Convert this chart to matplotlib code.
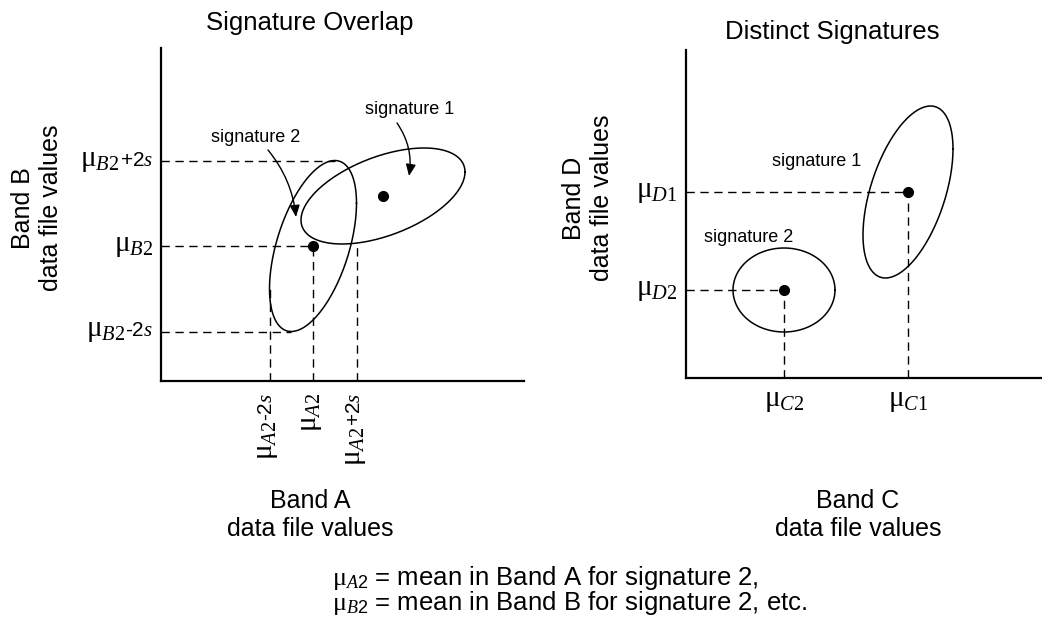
import numpy as np
import matplotlib
matplotlib.use("Agg")
import matplotlib.pyplot as plt
from matplotlib.patches import FancyArrowPatch

plt.rcParams["font.family"] = ["Liberation Sans", "DejaVu Sans"]
plt.rcParams["mathtext.fontset"] = "custom"
plt.rcParams["mathtext.rm"] = "Liberation Serif"
plt.rcParams["mathtext.it"] = "Liberation Serif:italic"
plt.rcParams["mathtext.sf"] = "Liberation Sans"

# -----------------------------
# Signature statistics (data file values, axes origin = 0)
# index 0 = signature 1, index 1 = signature 2
# -----------------------------
OVERLAP_MEAN_A = [222, 152]
OVERLAP_MEAN_B = [185, 135]
OVERLAP_2S_A = [82, 43.5]
OVERLAP_2S_B = [48, 85.5]
OVERLAP_RHO = [0.5, 0.5]

DISTINCT_MEAN_C = [222, 98]
DISTINCT_MEAN_D = [186, 88]
DISTINCT_2S_C = [45, 51]
DISTINCT_2S_D = [86, 42]
DISTINCT_RHO = [0.5, 0.0]

MU = r"$\mathrm{\mu}_{\mathit{%s}}$"
PLUS_2S = r"+2$\mathit{s}$"
MINUS_2S = r"-2$\mathit{s}$"
OVERLAP_YLABELS = [("B2", PLUS_2S), ("B2", None), ("B2", MINUS_2S)]
OVERLAP_XLABELS = [("A2", MINUS_2S), ("A2", None), ("A2", PLUS_2S)]
DISTINCT_XLABELS = ["C1", "C2"]
DISTINCT_YLABELS = ["D1", "D2"]

W, H = 1042, 618
PT = 72 / 100  # points per pixel at 100 dpi
MU_SIZE = 21
SUFFIX_SIZE = 15
DASH = dict(color="black", lw=1.0, ls=(0, (6, 4)))


def fx(px):
    return px / W


def fy(py):
    return 1 - py / H


def ellipse_xy(mx, my, sx, sy, rho, n=300):
    t = np.linspace(0, 2 * np.pi, n)
    x = mx + sx * np.cos(t)
    y = my + sy * (rho * np.cos(t) + np.sqrt(1 - rho ** 2) * np.sin(t))
    return x, y


def lower_edge(mx, my, sx, sy, rho, x):
    c = (x - mx) / sx
    return my + sy * (rho * c - np.sqrt(1 - rho ** 2) * np.sqrt(1 - c ** 2))


def setup_axes(ax, xmax, ymax):
    ax.set_xlim(0, xmax)
    ax.set_ylim(0, ymax)
    for side in ["top", "right"]:
        ax.spines[side].set_visible(False)
    for side in ["left", "bottom"]:
        ax.spines[side].set_linewidth(1.6)
    ax.set_xticks([])
    ax.set_yticks([])
    ax.patch.set_alpha(0)


def mu_ylabel(ax, y, sub, suffix=None):
    # right aligned left of the y axis, baseline a little under the guide line
    kw = dict(textcoords="offset points", ha="right", va="baseline", annotation_clip=False)
    if suffix is None:
        ax.annotate(MU % sub, xy=(0, y), xytext=(-8 * PT, -5 * PT), fontsize=MU_SIZE, **kw)
        return
    tail = ax.annotate(suffix, xy=(0, y), xytext=(-8 * PT, -5 * PT), fontsize=SUFFIX_SIZE, **kw)
    ax.annotate(MU % sub, xy=(0, y), xycoords=(tail, "data"), xytext=(0, -5 * PT),
                fontsize=MU_SIZE, **kw)


def mu_xlabel_rot(ax, x, sub, suffix=None):
    kw = dict(textcoords="offset points", rotation=90, rotation_mode="anchor",
              ha="right", va="baseline", annotation_clip=False)
    if suffix is None:
        ax.annotate(MU % sub, xy=(x, 0), xytext=(3 * PT, -12 * PT), fontsize=MU_SIZE, **kw)
        return
    tail = ax.annotate(suffix, xy=(x, 0), xytext=(3 * PT, -12 * PT), fontsize=SUFFIX_SIZE, **kw)
    ax.annotate(MU % sub, xy=(x, 0), xycoords=("data", tail), xytext=(3 * PT, 0),
                fontsize=MU_SIZE, **kw)


fig = plt.figure(figsize=(W / 100, H / 100), dpi=100)

# -----------------------------
# Left: Signature Overlap
# -----------------------------
ax1 = fig.add_axes([fx(161), fy(381), fx(524) - fx(161), fy(48) - fy(381)])
setup_axes(ax1, 363, 333)

for i in range(2):
    x, y = ellipse_xy(OVERLAP_MEAN_A[i], OVERLAP_MEAN_B[i], OVERLAP_2S_A[i], OVERLAP_2S_B[i], OVERLAP_RHO[i])
    ax1.plot(x, y, color="black", lw=1.1)
ax1.plot(OVERLAP_MEAN_A, OVERLAP_MEAN_B, "o", color="black", ms=7)

mx, my = OVERLAP_MEAN_A[1], OVERLAP_MEAN_B[1]
sx, sy, rho = OVERLAP_2S_A[1], OVERLAP_2S_B[1], OVERLAP_RHO[1]
s1 = (OVERLAP_MEAN_A[0], OVERLAP_MEAN_B[0], OVERLAP_2S_A[0], OVERLAP_2S_B[0], OVERLAP_RHO[0])

ax1.plot([0, mx + rho * sx], [my + sy] * 2, **DASH)
ax1.plot([0, mx], [my] * 2, **DASH)
ax1.plot([0, mx - rho * sx], [my - sy] * 2, **DASH)
ax1.plot([mx - sx] * 2, [0, my - rho * sy], **DASH)
ax1.plot([mx] * 2, [0, my], **DASH)
ax1.plot([mx + sx] * 2, [0, lower_edge(*s1, mx + sx)], **DASH)

for yv, (sub, suffix) in zip([my + sy, my, my - sy], OVERLAP_YLABELS):
    mu_ylabel(ax1, yv, sub, suffix)
for xv, (sub, suffix) in zip([mx - sx, mx, mx + sx], OVERLAP_XLABELS):
    mu_xlabel_rot(ax1, xv, sub, suffix)

ax1.text(95, 243, "signature 2", ha="center", va="center", fontsize=13)
ax1.text(249, 271, "signature 1", ha="center", va="center", fontsize=13)
for start, end, rad in [((107, 231), (135, 164), -0.15), ((236, 258), (248, 205), -0.2)]:
    ax1.add_patch(FancyArrowPatch(start, end, connectionstyle=f"arc3,rad={rad}",
                                  arrowstyle="-|>,head_length=0.35,head_width=0.15",
                                  mutation_scale=20, color="black", lw=1.0,
                                  shrinkA=0, shrinkB=0))

# -----------------------------
# Right: Distinct Signatures
# -----------------------------
ax2 = fig.add_axes([fx(686), fy(378), fx(1042) - fx(686), fy(50) - fy(378)])
setup_axes(ax2, 356, 328)

for i in range(2):
    x, y = ellipse_xy(DISTINCT_MEAN_C[i], DISTINCT_MEAN_D[i], DISTINCT_2S_C[i], DISTINCT_2S_D[i], DISTINCT_RHO[i])
    ax2.plot(x, y, color="black", lw=1.1)
    ax2.plot([0, DISTINCT_MEAN_C[i]], [DISTINCT_MEAN_D[i]] * 2, **DASH)
    ax2.plot([DISTINCT_MEAN_C[i]] * 2, [0, DISTINCT_MEAN_D[i]], **DASH)
    mu_ylabel(ax2, DISTINCT_MEAN_D[i], DISTINCT_YLABELS[i])
    ax2.annotate(MU % DISTINCT_XLABELS[i], xy=(DISTINCT_MEAN_C[i], 0), xytext=(0, -8 * PT),
                 textcoords="offset points", ha="center", va="top", fontsize=MU_SIZE,
                 annotation_clip=False)
ax2.plot(DISTINCT_MEAN_C, DISTINCT_MEAN_D, "o", color="black", ms=7)

ax2.text(131, 217, "signature 1", ha="center", va="center", fontsize=13)
ax2.text(63, 140, "signature 2", ha="center", va="center", fontsize=13)

# -----------------------------
# Titles, axis labels, note
# -----------------------------
fig.text(fx(310), fy(23), "Signature Overlap", ha="center", va="center", fontsize=18.5)
fig.text(fx(832), fy(32), "Distinct Signatures", ha="center", va="center", fontsize=18.5)

lab = dict(ha="center", va="center", fontsize=18, linespacing=1.25, multialignment="center")
fig.text(fx(37), fy(208), "Band B\ndata file values", rotation=90, **lab)
fig.text(fx(588), fy(198), "Band D\ndata file values", rotation=90, **lab)
fig.text(fx(310), fy(515), "Band A\ndata file values", **lab)
fig.text(fx(858), fy(515), "Band C\ndata file values", **lab)

note = r"$\mathrm{\mu}_{\mathit{%s}\mathsf{2}}$ = mean in Band %s for signature 2,"
fig.text(fx(332), fy(564), note % ("A", "A") + "\n" + note % ("B", "B") + " etc.",
         ha="left", va="top", fontsize=18.5, linespacing=0.88)

fig.savefig("out.png", dpi=100)
